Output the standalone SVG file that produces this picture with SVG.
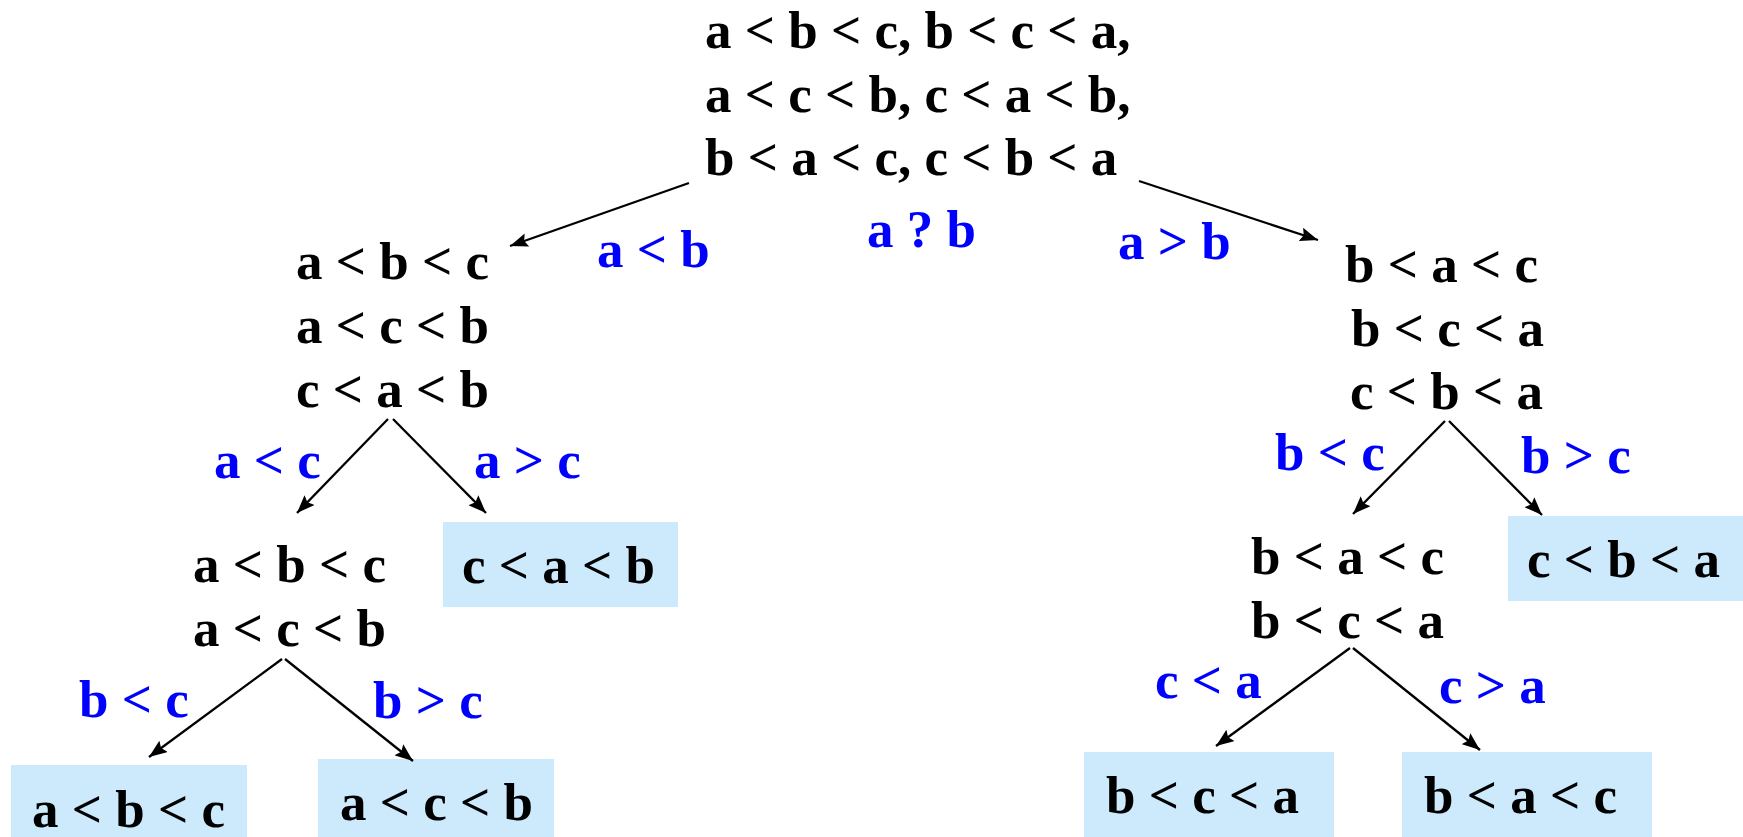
<svg xmlns="http://www.w3.org/2000/svg" width="1743" height="837" viewBox="0 0 1743 837">
  <style>
    text { font-family: "Liberation Serif", "Times New Roman", serif; font-weight: bold; font-size: 53px; }
    .set { fill: #000000; }
    .cmp { fill: #0000ff; }
    .leaf { fill: #cceafc; }
    .edge { stroke: #000000; stroke-width: 2.3; fill: none; marker-end: url(#arrow); }
  </style>
  <defs>
    <marker id="arrow" viewBox="0 0 18 14" refX="18" refY="7" markerWidth="18" markerHeight="14" markerUnits="userSpaceOnUse" orient="auto">
      <path d="M0,0 L18,7 L0,14 L3,7 Z" fill="#000000"/>
    </marker>
  </defs>
  <rect width="1743" height="837" fill="#ffffff"/>

  <!-- root: all six orderings -->
  <g id="root">
    <text class="set" x="705" y="48">a &lt; b &lt; c, b &lt; c &lt; a,</text>
    <text class="set" x="705" y="112">a &lt; c &lt; b, c &lt; a &lt; b,</text>
    <text class="set" x="705" y="175">b &lt; a &lt; c, c &lt; b &lt; a</text>
  </g>

  <!-- first comparison -->
  <g id="q-ab">
    <text class="cmp" x="867" y="247">a ? b</text>
  </g>

  <!-- branch a < b -->
  <g id="n-left">
    <text class="set" x="296" y="279">a &lt; b &lt; c</text>
    <text class="set" x="296" y="343">a &lt; c &lt; b</text>
    <text class="set" x="296" y="407">c &lt; a &lt; b</text>
  </g>
  <g id="n-left-ac">
    <text class="set" x="193" y="582">a &lt; b &lt; c</text>
    <text class="set" x="193" y="646">a &lt; c &lt; b</text>
  </g>
  <g id="leaf-cab">
    <rect class="leaf" x="443" y="522" width="235" height="85"/>
    <text class="set" x="462" y="583">c &lt; a &lt; b</text>
  </g>
  <g id="leaf-abc">
    <rect class="leaf" x="11" y="765" width="236" height="72"/>
    <text class="set" x="32" y="827">a &lt; b &lt; c</text>
  </g>
  <g id="leaf-acb">
    <rect class="leaf" x="318" y="759" width="236" height="78"/>
    <text class="set" x="340" y="820">a &lt; c &lt; b</text>
  </g>

  <!-- branch a > b -->
  <g id="n-right">
    <text class="set" x="1345" y="282">b &lt; a &lt; c</text>
    <text class="set" x="1351" y="346">b &lt; c &lt; a</text>
    <text class="set" x="1350" y="409">c &lt; b &lt; a</text>
  </g>
  <g id="n-right-bc">
    <text class="set" x="1251" y="574">b &lt; a &lt; c</text>
    <text class="set" x="1251" y="638">b &lt; c &lt; a</text>
  </g>
  <g id="leaf-cba">
    <rect class="leaf" x="1508" y="516" width="235" height="85"/>
    <text class="set" x="1527" y="577">c &lt; b &lt; a</text>
  </g>
  <g id="leaf-bca">
    <rect class="leaf" x="1084" y="752" width="250" height="85"/>
    <text class="set" x="1106" y="813">b &lt; c &lt; a</text>
  </g>
  <g id="leaf-bac">
    <rect class="leaf" x="1402" y="752" width="250" height="85"/>
    <text class="set" x="1424" y="813">b &lt; a &lt; c</text>
  </g>

  <!-- connectors with their comparison outcomes -->
  <g id="connectors">
    <line class="edge" x1="689" y1="183" x2="510" y2="246"/>
    <line class="edge" x1="1139" y1="181" x2="1318" y2="240"/>
    <line class="edge" x1="388" y1="419" x2="297" y2="513"/>
    <line class="edge" x1="393" y1="419" x2="486" y2="513"/>
    <line class="edge" x1="282" y1="659" x2="149" y2="757"/>
    <line class="edge" x1="285" y1="659" x2="413" y2="761"/>
    <line class="edge" x1="1445" y1="421" x2="1353" y2="514"/>
    <line class="edge" x1="1449" y1="421" x2="1542" y2="515"/>
    <line class="edge" x1="1350" y1="648" x2="1216" y2="746"/>
    <line class="edge" x1="1353" y1="648" x2="1480" y2="750"/>

    <text class="cmp" x="597" y="267">a &lt; b</text>
    <text class="cmp" x="1118" y="259">a &gt; b</text>
    <text class="cmp" x="214" y="478">a &lt; c</text>
    <text class="cmp" x="474" y="478">a &gt; c</text>
    <text class="cmp" x="79" y="717">b &lt; c</text>
    <text class="cmp" x="373" y="718">b &gt; c</text>
    <text class="cmp" x="1275" y="470">b &lt; c</text>
    <text class="cmp" x="1521" y="473">b &gt; c</text>
    <text class="cmp" x="1155" y="698">c &lt; a</text>
    <text class="cmp" x="1439" y="703">c &gt; a</text>
  </g>
</svg>
